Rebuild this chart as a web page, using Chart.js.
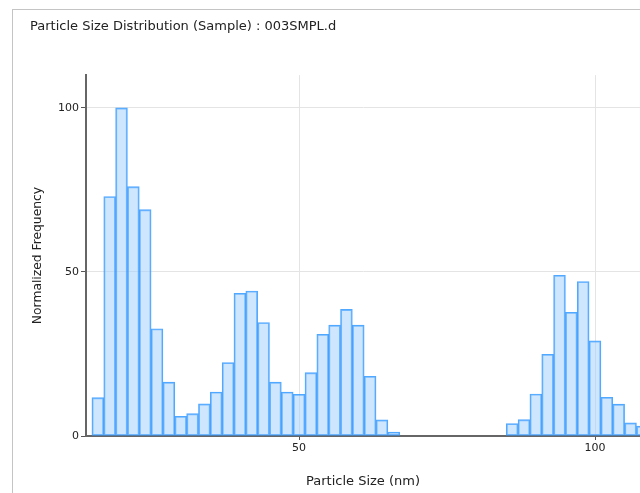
<!DOCTYPE html>
<html>
<head>
<meta charset="utf-8">
<script src="https://cdn.jsdelivr.net/npm/chart.js@4.4.0/dist/chart.umd.min.js"></script>
<style>
  html, body { margin: 0; padding: 0; background: #fff; overflow: hidden; }
  #frame { position: absolute; left: 12px; top: 9px; width: 700px; height: 600px;
           border-left: 1px solid #c4c4c4; border-top: 1px solid #c4c4c4; }
  #sizeChart { position: absolute; left: 0; top: 0; }
</style>
</head>
<body>
<div id="frame"></div>
<canvas id="sizeChart" width="640" height="493"></canvas>
<script>
// bin centres (nm) and normalized frequency
const sizes = [16, 18, 20, 22, 24, 26, 28, 30, 32, 34, 36, 38, 40, 42, 44, 46, 48, 50,
               52, 54, 56, 58, 60, 62, 64, 66,
               86, 88, 90, 92, 94, 96, 98, 100, 102, 104, 106, 108];
const freq = [11.7, 73, 100, 76, 69, 32.7, 16.4, 6, 6.8, 9.8, 13.4, 22.4, 43.5, 44.2, 34.6, 16.4, 13.4, 12.7,
              19.3, 31, 33.8, 38.6, 33.8, 18.2, 4.9, 1.2,
              3.8, 5.0, 12.8, 24.9, 49, 37.7, 47.1, 29, 11.8, 9.7, 4.0, 3.0];
const xTicks = [50, 100];
const yTicks = [0, 50, 100];

const points = sizes.map((s, i) => ({ x: s, y: freq[i] }));

const font = 'DejaVu Sans';

new Chart(document.getElementById('sizeChart'), {
  type: 'bar',
  data: {
    datasets: [{
      label: 'Sample',
      data: points,
      backgroundColor: 'rgba(160, 205, 255, 0.5)',
      borderColor: 'rgba(51, 153, 255, 0.85)',
      borderWidth: 1.2,
      borderSkipped: false,
      barPercentage: 1,
      categoryPercentage: 1
    }]
  },
  options: {
    responsive: false,
    animation: false,
    layout: { padding: { left: 30, top: 10, right: 0, bottom: 0 } },
    plugins: {
      legend: { display: false },
      tooltip: { enabled: false },
      title: {
        display: true,
        text: 'Particle Size Distribution (Sample) : 003SMPL.d',
        align: 'start',
        color: '#222',
        font: { family: font, size: 13, weight: 'normal' },
        padding: { top: 8.5, bottom: 41 }
      }
    },
    scales: {
      x: {
        type: 'linear',
        min: 14,
        max: 107.6,
        offset: false,
        afterBuildTicks: s => { s.ticks = xTicks.map(v => ({ value: v })); },
        afterFit: s => { s.height = 57; },
        grid: { offset: false, color: '#e4e4e4', tickColor: '#555', tickLength: 4 },
        border: { color: '#666', width: 2 },
        ticks: { color: '#222', padding: 2, font: { family: font, size: 11 } },
        title: {
          display: true,
          text: 'Particle Size (nm)',
          color: '#222',
          font: { family: font, size: 13 },
          padding: { top: 0, bottom: 4 }
        }
      },
      y: {
        min: 0,
        max: 110,
        afterBuildTicks: s => { s.ticks = yTicks.map(v => ({ value: v })); },
        afterFit: s => { s.width = 56; },
        grid: { color: '#e4e4e4', tickColor: '#555', tickLength: 5 },
        border: { color: '#666', width: 2 },
        ticks: { color: '#222', padding: 2, font: { family: font, size: 11 } },
        title: {
          display: true,
          text: 'Normalized Frequency',
          color: '#222',
          font: { family: font, size: 12.3 },
          padding: { top: 0, bottom: 0 }
        }
      }
    }
  }
});
</script>
</body>
</html>
